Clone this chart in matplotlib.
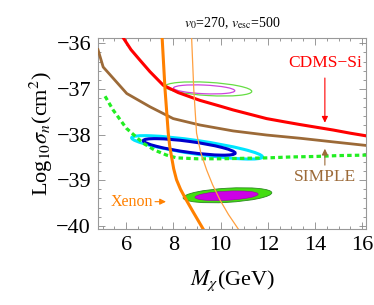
import numpy as np
import matplotlib
matplotlib.use("Agg")
import matplotlib.pyplot as plt
from matplotlib.patches import Ellipse
from matplotlib.ticker import MultipleLocator

plt.rcParams['font.family'] = ['Liberation Serif', 'DejaVu Serif']
plt.rcParams['mathtext.fontset'] = 'stix'

# ---- data ----
cdms_x = [5.87, 6.2, 6.58, 7.0, 7.57, 8.2, 9.12, 10.0, 10.53, 11.95, 12.7, 13.36, 14.77, 15.5, 16.2]
cdms_y = [-35.88, -36.14, -36.37, -36.62, -36.92, -37.08, -37.25, -37.38, -37.46, -37.65, -37.72, -37.78, -37.90, -37.97, -38.03]

simple_x = [4.8, 5.02, 6.02, 7.0, 7.99, 9.12, 10.53, 11.95, 13.36, 14.77, 16.2]
simple_y = [-36.14, -36.52, -37.10, -37.39, -37.65, -37.79, -37.92, -38.01, -38.08, -38.16, -38.24]

green_x = [5.1, 5.44, 6.0, 6.72, 7.2, 7.71, 8.13, 9.0, 10.0, 11.0, 12.0, 13.0, 14.0, 15.0, 16.2]
green_y = [-37.16, -37.46, -37.86, -38.19, -38.34, -38.45, -38.51, -38.53, -38.53, -38.52, -38.51, -38.49, -38.48, -38.46, -38.45]

xenon_y = [-35.88, -36.99, -37.97, -38.25, -38.49, -38.75, -38.99, -39.2, -39.43, -39.7, -40.07]
xenon_x = [7.52, 7.64, 7.78, 7.84, 7.92, 8.01, 8.13, 8.30, 8.54, 8.84, 9.26]

xenon2_y = [-35.88, -37.0, -37.97, -38.4, -38.78, -39.1, -39.43, -39.75, -40.07]
xenon2_x = [8.77, 8.86, 8.98, 9.16, 9.41, 9.66, 9.97, 10.33, 10.75]

# contour regions: center x, center y, width, height, angle
reg_names = ['top_green', 'top_magenta', 'cyan', 'blue', 'fill_green', 'fill_magenta']
reg_cx = [9.48, 9.30, 9.00, 8.67, 10.29, 10.25]
reg_cy = [-37.00, -37.01, -38.28, -38.27, -39.33, -39.34]
reg_w = [3.68, 2.60, 5.56, 3.90, 3.76, 2.68]
reg_h = [0.29, 0.19, 0.30, 0.24, 0.31, 0.20]
reg_ang = [-1.7, -1.3, -4.3, -4.0, 1.7, 1.5]

xticks = [6, 8, 10, 12, 14, 16]
yticks = [-40, -39, -38, -37, -36]

# ---- figure ----
fig = plt.figure(figsize=(3.74, 3.05), dpi=100)
ax = fig.add_axes([0.262, 0.249, 0.717, 0.627])
ax.set_xlim(4.8, 16.17)
ax.set_ylim(-40.07, -35.88)

ax.plot(cdms_x, cdms_y, color='#ff0000', lw=2.2, zorder=3)
ax.plot(simple_x, simple_y, color='#9c6a38', lw=2.0, zorder=3)
ax.plot(green_x, green_y, color='#22ee22', lw=2.3, ls=(0, (1.4, 1.0)), zorder=3)

styles = [
    dict(fill=False, ec='#66dd44', lw=0.9),
    dict(fill=False, ec='#cc44dd', lw=0.9),
    dict(fill=False, ec='#00e5ff', lw=2.2),
    dict(fill=False, ec='#0000cc', lw=2.2),
    dict(fill=True, fc='#44dd11', ec='#2a8a20', lw=0.6),
    dict(fill=True, fc='#cc00e6', ec='#9900aa', lw=0.4),
]
for cx, cy, w, h, a, st in zip(reg_cx, reg_cy, reg_w, reg_h, reg_ang, styles):
    ax.add_patch(Ellipse((cx, cy), w, h, angle=a, zorder=2, **st))

ax.plot(xenon_x, xenon_y, color='#ff8000', lw=2.2, zorder=4)
ax.plot(xenon2_x, xenon2_y, color='#ffa040', lw=0.9, zorder=4)

# labels and arrows
ax.text(14.42, -36.44, 'CDMS\u2212Si', color='#ff0000', fontsize=12.5, ha='center', va='center')
ax.annotate('', xy=(14.42, -37.8), xytext=(14.42, -36.7),
            arrowprops=dict(arrowstyle='-|>', color='#ff0000', lw=0.8, mutation_scale=9))
ax.text(14.42, -38.93, 'SIMPLE', color='#9c6a38', fontsize=12.5, ha='center', va='center')
ax.annotate('', xy=(14.42, -38.25), xytext=(14.42, -38.73),
            arrowprops=dict(arrowstyle='-|>', color='#9c6a38', lw=0.8, mutation_scale=9))
ax.text(6.22, -39.47, 'Xenon', color='#ff8000', fontsize=11.5, ha='center', va='center')
ax.annotate('', xy=(7.8, -39.47), xytext=(7.1, -39.47),
            arrowprops=dict(arrowstyle='-|>', color='#ff8000', lw=0.8, mutation_scale=9))

ax.set_xticks(xticks)
ax.set_yticks(yticks)
ax.set_xticklabels([str(t) for t in xticks])
ax.set_yticklabels(['\u2212%d' % abs(t) for t in yticks])
ax.xaxis.set_minor_locator(MultipleLocator(0.5))
ax.yaxis.set_minor_locator(MultipleLocator(0.2))
ax.tick_params(which='both', direction='in', top=True, right=True, color='#888888', labelsize=16, width=0.6)
ax.tick_params(which='major', length=5, pad=5)
ax.tick_params(which='minor', length=2.5)
for s in ax.spines.values():
    s.set_color('#999999')
    s.set_linewidth(0.8)

ax.set_xlabel(r'$M_\chi$(GeV)', fontsize=16, labelpad=10)
ax.set_ylabel(r'Log$_{10}\sigma_n$(cm$^2$)', fontsize=16, labelpad=1)
ax.set_title(r'$v_0$=270, $v_{\rm esc}$=500', fontsize=10, pad=8)

fig.savefig('out.png', dpi=100)
